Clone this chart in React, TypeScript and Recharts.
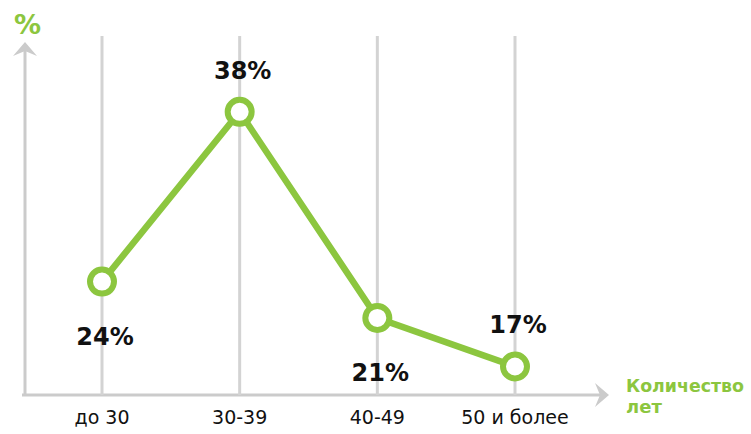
import { LineChart, Line, XAxis, YAxis, CartesianGrid, LabelList } from 'recharts';

// Возрастные группы и доля, %
const ageGroups = ['до 30', '30-39', '40-49', '50 и более'];
const shares = [24, 38, 21, 17];

const data = ageGroups.map((group, i) => ({ group, share: shares[i] }));

const GREEN = '#8cc63f';
const GRAY = '#cbcbcb';

// подпись над точкой или под ней
const renderLabel = (props: any) => {
  const { x, y, value, index } = props;
  const below = index % 2 === 0;
  return (
    <text
      x={x + 3}
      y={below ? y + 63 : y - 33}
      textAnchor="middle"
      fontFamily="DejaVu Sans"
      fontWeight="bold"
      fontSize={24}
      fill="#111"
    >
      {value}%
    </text>
  );
};

const App = () => {
  return (
    <div style={{ position: 'absolute', left: 0, top: 0, width: 751, height: 434, background: '#fff' }}>
      <svg width={751} height={434} style={{ position: 'absolute', left: 0, top: 0 }}>
        {/* ось Y */}
        <line x1={25} y1={396} x2={25} y2={48} stroke={GRAY} strokeWidth={3} />
        <path d="M25,42 L37,56 L25,51 L13,56 Z" fill={GRAY} />
        {/* ось X */}
        <line x1={22} y1={395} x2={602} y2={395} stroke={GRAY} strokeWidth={3} />
        <path d="M609,395 L595,383 L600,395 L595,407 Z" fill={GRAY} />
        <text x={14} y={34} fontFamily="DejaVu Sans" fontWeight="bold" fontSize={27} fill={GREEN}>%</text>
        <text fontFamily="DejaVu Sans" fontWeight="bold" fontSize={18} fill={GREEN}>
          <tspan x={626} y={392} textLength={118} lengthAdjust="spacingAndGlyphs">Количество</tspan>
          <tspan x={626} y={413}>лет</tspan>
        </text>
      </svg>
      <div style={{ position: 'absolute', left: 0, top: 0 }}>
        <LineChart width={751} height={434} data={data} margin={{ top: 36, right: 236, bottom: 9, left: 102 }}>
          <CartesianGrid vertical horizontal={false} stroke="#d3d3d3" strokeWidth={3} />
          <XAxis
            dataKey="group"
            axisLine={false}
            tickLine={false}
            height={30}
            tickMargin={10}
            interval={0}
            tick={{ fill: '#111', fontSize: 19, fontFamily: 'DejaVu Sans' }}
          />
          <YAxis hide domain={[14.65, 44.25]} />
          <Line
            type="linear"
            dataKey="share"
            stroke={GREEN}
            strokeWidth={6.5}
            dot={{ r: 12, stroke: GREEN, strokeWidth: 6, fill: '#fff' }}
            isAnimationActive={false}
          >
            <LabelList dataKey="share" content={renderLabel} />
          </Line>
        </LineChart>
      </div>
    </div>
  );
};

export default App;
